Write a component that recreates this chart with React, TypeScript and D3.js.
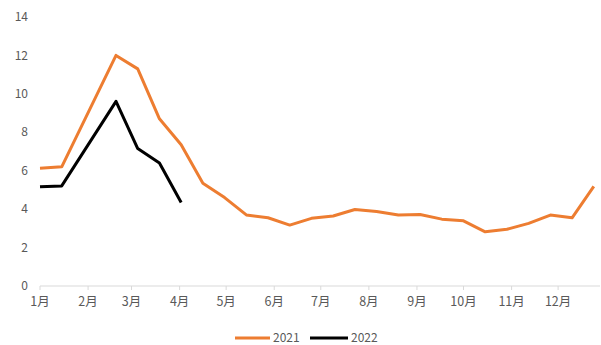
import React from "react";
import * as d3 from "d3";

// Biweekly observation dates (plotted on a single-year month axis)
const dates2021 = [
  "2021-01-01", "2021-01-15", "2021-02-19", "2021-03-05", "2021-03-19",
  "2021-04-02", "2021-04-16", "2021-04-30", "2021-05-14", "2021-05-28",
  "2021-06-11", "2021-06-25", "2021-07-09", "2021-07-23", "2021-08-06",
  "2021-08-20", "2021-09-03", "2021-09-17", "2021-10-01", "2021-10-15",
  "2021-10-29", "2021-11-12", "2021-11-26", "2021-12-10", "2021-12-24",
];
const values2021 = [
  6.13, 6.2, 12.0, 11.3, 8.7, 7.35, 5.35, 4.6, 3.7, 3.55, 3.17, 3.52, 3.64,
  3.98, 3.88, 3.69, 3.72, 3.48, 3.39, 2.82, 2.95, 3.26, 3.69, 3.55, 5.18,
];
const dates2022 = [
  "2021-01-01", "2021-01-15", "2021-02-19", "2021-03-05", "2021-03-19",
  "2021-04-02",
];
const values2022 = [5.16, 5.21, 9.61, 7.15, 6.4, 4.35];

const monthLabels = [
  "1月", "2月", "3月", "4月", "5月", "6月",
  "7月", "8月", "9月", "10月", "11月", "12月",
];
const yTicks = [0, 2, 4, 6, 8, 10, 12, 14];
const seriesNames = ["2021", "2022"];

const W = 601;
const H = 345;
const FONT = "'Noto Sans CJK SC', 'Noto Sans', sans-serif";
const TEXT = "#595959";
const ORANGE = "#ED7D31";
const BLACK = "#000000";

export default function App() {
  const parse = d3.timeParse("%Y-%m-%d");
  const x = d3
    .scaleTime()
    .domain([parse("2021-01-01")!, parse("2021-12-28")!])
    .range([40, 600]);
  const y = d3.scaleLinear().domain([0, 14]).range([286, 17]);

  const line = d3
    .line<[Date, number]>()
    .x((d) => x(d[0]))
    .y((d) => y(d[1]));

  const s2021: [Date, number][] = dates2021.map((d, i) => [parse(d)!, values2021[i]]);
  const s2022: [Date, number][] = dates2022.map((d, i) => [parse(d)!, values2022[i]]);

  const monthStarts = monthLabels.map((_, i) => new Date(2021, i, 1));

  return (
    <svg
      width={W}
      height={H}
      style={{ position: "absolute", left: 0, top: 0, background: "#fff" }}
      fontFamily={FONT}
    >
      {/* y-axis labels */}
      {yTicks.map((t) => (
        <text
          key={t}
          x={28}
          y={y(t)}
          dy="0.35em"
          textAnchor="end"
          fontSize={12}
          fill={TEXT}
        >
          {t}
        </text>
      ))}

      {/* x axis line with month ticks */}
      <line x1={40} x2={600} y1={y(0)} y2={y(0)} stroke="#d9d9d9" strokeWidth={1} />
      {monthStarts.map((d, i) => (
        <g key={i}>
          <line
            x1={x(d)}
            x2={x(d)}
            y1={y(0)}
            y2={y(0) + 4}
            stroke="#d9d9d9"
            strokeWidth={1}
          />
          <text
            x={x(d)}
            y={y(0) + 16}
            dy="0.35em"
            textAnchor="middle"
            fontSize={12.5}
            fill={TEXT}
          >
            {monthLabels[i]}
          </text>
        </g>
      ))}

      {/* series lines */}
      <path d={line(s2021) ?? ""} fill="none" stroke={ORANGE} strokeWidth={3} strokeLinejoin="round" />
      <path d={line(s2022) ?? ""} fill="none" stroke={BLACK} strokeWidth={3} strokeLinejoin="round" />

      {/* legend */}
      <g fontSize={12} fill={TEXT}>
        <line x1={235} x2={270} y1={338} y2={338} stroke={ORANGE} strokeWidth={3} />
        <text x={273} y={338} dy="0.35em">{seriesNames[0]}</text>
        <line x1={310} x2={348} y1={338} y2={338} stroke={BLACK} strokeWidth={3} />
        <text x={351} y={338} dy="0.35em">{seriesNames[1]}</text>
      </g>
    </svg>
  );
}
